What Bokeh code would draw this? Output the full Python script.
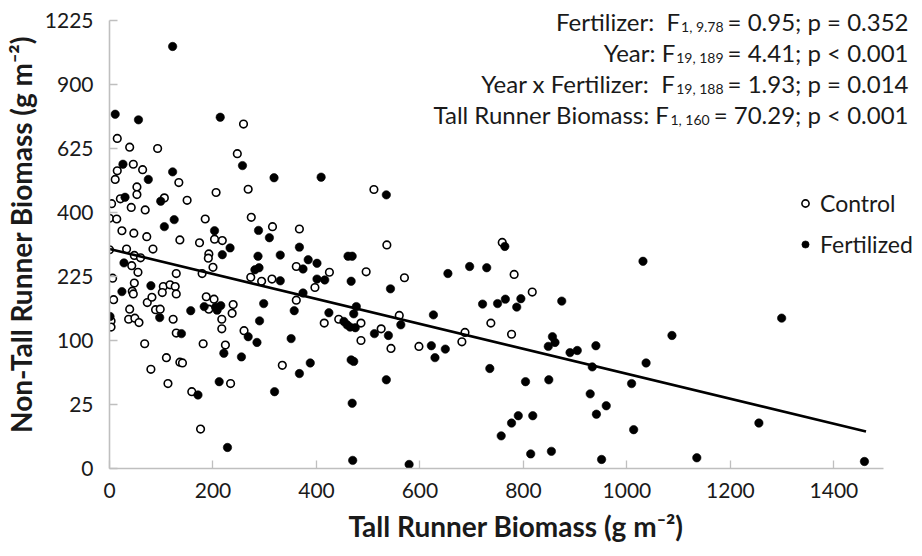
import glob
import subprocess
import numpy as np
from bokeh.plotting import figure
from bokeh.models import FixedTicker, Label, Legend, LegendItem, Range1d
from bokeh.embed import file_html
from bokeh.resources import INLINE

# ---- data ----
control_x = [259, 15, 39, 93, 247, 46, 15, 64, 11, 134,
             53, 268, 53, 206, 106, 150, 4, 21, 42, 69,
             0, 14, 185, 274, 24, 47, 72, 315, 367, 136,
             174, 203, 218, 0, 33, 84, 48, 60, 43, 55,
             192, 191, 200, 129, 179, 361, 6, 48, 104, 117,
             127, 102, 129, 44, 46, 273, 294, 314, 8, 73,
             82, 187, 202, 192, 239, 237, 361, 39, 89, 98,
             37, 49, 57, 3, 3, 123, 217, 217, 129, 260,
             68, 181, 224, 110, 136, 141, 334, 80, 113, 234,
             159, 176, 511, 536, 425, 496, 570, 397, 415, 443,
             486, 486, 525, 544, 560, 598, 687, 681, 737, 759,
             782, 817, 777]
control_y = [724, 665, 630, 625, 605, 565, 541, 545, 510, 499,
             484, 476, 458, 465, 447, 439, 428, 444, 416, 408,
             382, 380, 380, 385, 345, 338, 328, 357, 350, 319,
             311, 321, 317, 292, 294, 294, 277, 271, 251, 235,
             281, 270, 247, 232, 232, 249, 221, 210, 202, 206,
             202, 189, 186, 192, 186, 223, 214, 219, 174, 168,
             179, 180, 175, 155, 164, 147, 173, 155, 154, 155,
             136, 138, 130, 133, 122, 136, 136, 119, 112, 116,
             95, 95, 93, 75, 69, 68, 65, 60, 44, 44,
             36, 9.5, 475, 305, 235, 236, 222, 200, 129, 136,
             129, 100, 119, 88, 143, 91, 113, 98, 129, 312,
             230, 190, 110]

fert_x = [122, 11, 56, 214, 26, 122, 257, 318, 75, 30,
          99, 125, 106, 203, 288, 309, 233, 367, 28, 218,
          287, 330, 281, 289, 80, 24, 330, 183, 205, 215,
          208, 157, 298, 357, 97, 1, 290, 139, 268, 285,
          351, 221, 255, 367, 212, 319, 171, 228, 409, 535,
          384, 401, 374, 401, 416, 461, 469, 467, 654, 696,
          729, 543, 374, 477, 472, 424, 453, 459, 465, 475,
          512, 539, 563, 626, 622, 629, 649, 721, 735, 388,
          467, 472, 535, 469, 470, 579, 764, 750, 765, 795,
          787, 874, 1031, 856, 861, 848, 890, 904, 940, 1087,
          933, 1037, 804, 849, 1009, 929, 960, 941, 790, 818,
          777, 757, 1013, 814, 854, 951, 1135, 1299, 1255, 1459]
fert_y = [1087, 766, 742, 753, 565, 537, 560, 516, 510, 449,
          436, 378, 357, 345, 346, 325, 297, 299, 258, 279,
          275, 278, 241, 246, 204, 191, 215, 160, 159, 162,
          153, 152, 166, 152, 139, 141, 133, 111, 106, 97,
          103, 81, 76, 55, 46, 36, 33, 2.7, 518, 457,
          266, 257, 243, 219, 217, 275, 275, 214, 232, 249,
          246, 197, 188, 160, 146, 148, 132, 126, 122, 121,
          111, 108, 126, 144, 92, 75, 87, 165, 61, 68,
          72, 70, 48, 26, 0.4, 0.1, 301, 166, 175, 176,
          159, 171, 262, 106, 97, 91, 82, 85, 92, 108,
          63, 68, 46, 48, 44, 34, 24, 18, 17, 17,
          12.6, 6.5, 9.2, 1.3, 1.8, 0.5, 0.7, 138, 12.6, 0.3]

# regression on the square-root scale: sqrt(y) = a + b*x
fit_intercept = 17.15
fit_slope = -0.00975
fit_x_max = 1462

x_ticks = [0, 200, 400, 600, 800, 1000, 1200, 1400]
x_axis_end = 1496
y_tick_values = [0, 25, 100, 225, 400, 625, 900, 1225]
y_axis_end = 35  # square root of 1225

stat_main = ["Fertilizer:\u00a0 F", "Year: F", "Year x Fertilizer:\u00a0 F", "Tall Runner Biomass: F"]
stat_sub = ["1, 9.78", "19, 189", "19, 188", "1, 160"]
stat_rest = ["= 0.95; p = 0.352", "= 4.41; p < 0.001", "= 1.93; p = 0.014", "= 70.29; p < 0.001"]

# ---- layout constants (canvas pixels) ----
W, H = 922, 556
LEFT, BOTTOM = 107, 88
AXIS_RIGHT_PX = 883
AXIS_TOP_PX = 20
FRAME_BOTTOM = H - BOTTOM
FONT = "Lato"
TXT = "#1a1a1a"
STAT_SIZE = 24
SUB_SIZE = 14


def find_font_file():
    roots = ["/usr/share/fonts", "/usr/local/share/fonts", "/root/.fonts",
             "/root/.local/share/fonts"]
    for root in roots:
        for pat in ("Lato-Regular.ttf", "Lato-Regular.otf", "Lato-Reg*.ttf"):
            hits = glob.glob(f"{root}/**/{pat}", recursive=True)
            if hits:
                return hits[0]
    try:
        out = subprocess.run(["fc-match", "-f", "%{file}", "Lato:style=Regular"],
                             capture_output=True, text=True, timeout=5).stdout.strip()
        if out:
            return out
    except Exception:
        pass
    return None


_font_file = find_font_file()
_font_cache = {}


def text_width(text, size):
    try:
        from PIL import ImageFont
        if _font_file:
            if size not in _font_cache:
                _font_cache[size] = ImageFont.truetype(_font_file, size)
            return _font_cache[size].getlength(text)
    except Exception:
        pass
    return len(text) * 0.55 * size


# the frame fills the canvas to the right and top edges so that the text at the
# top right is not clipped; the axis lines stop at the reference's axis ends
x_px_per_unit = (AXIS_RIGHT_PX - LEFT) / x_axis_end
x_range_end = (W - LEFT) / x_px_per_unit
y_px_per_unit = (FRAME_BOTTOM - AXIS_TOP_PX) / y_axis_end
y_range_end = FRAME_BOTTOM / y_px_per_unit

p = figure(width=W, height=H, output_backend="svg", toolbar_location=None,
           x_range=Range1d(0, x_range_end), y_range=Range1d(0, y_range_end),
           min_border_left=LEFT, min_border_right=0,
           min_border_top=0, min_border_bottom=BOTTOM)
p.outline_line_color = None
p.xgrid.grid_line_color = None
p.ygrid.grid_line_color = None
p.background_fill_color = "white"
p.border_fill_color = "white"

p.xaxis.ticker = FixedTicker(ticks=x_ticks)
p.xaxis.bounds = (0, x_axis_end)
y_tick_pos = [int(round(np.sqrt(v))) for v in y_tick_values]
p.yaxis.ticker = FixedTicker(ticks=y_tick_pos)
p.yaxis.bounds = (0, y_axis_end)
p.yaxis.major_label_overrides = {k: str(v) for k, v in zip(y_tick_pos, y_tick_values)}

for ax in (p.xaxis[0], p.yaxis[0]):
    ax.axis_line_color = "#bfbfbf"
    ax.axis_line_width = 1.6
    ax.major_tick_line_color = "#bfbfbf"
    ax.major_tick_line_width = 1.3
    ax.major_tick_in = 8
    ax.major_tick_out = 0
    ax.minor_tick_line_color = None
    ax.major_label_text_font = FONT
    ax.major_label_text_font_size = "21px"
    ax.major_label_text_color = TXT
    ax.axis_label_text_font = FONT
    ax.axis_label_text_font_size = "28px"
    ax.axis_label_text_font_style = "bold"
    ax.axis_label_text_color = TXT

p.xaxis.axis_label = "Tall Runner Biomass (g m\u207b\u00b2)"
p.yaxis.axis_label = "Non-Tall Runner Biomass (g m\u207b\u00b2)"
p.xaxis.major_label_standoff = 14
p.yaxis.major_label_standoff = 16
p.xaxis.axis_label_standoff = 8
p.yaxis.axis_label_standoff = 4

r_c = p.scatter(control_x, np.sqrt(control_y), size=7.6, marker="circle",
                fill_color="white", line_color="black", line_width=1.6)
r_f = p.scatter(fert_x, np.sqrt(fert_y), size=8.4, marker="circle",
                fill_color="black", line_color="black", line_width=0.6)

line_x = np.array([0, fit_x_max])
p.line(line_x, fit_intercept + fit_slope * line_x, line_color="black", line_width=2.6)

legend = Legend(items=[LegendItem(label="Control", renderers=[r_c]),
                       LegendItem(label="Fertilized", renderers=[r_f])],
                location=(687, 209), orientation="vertical",
                padding=0, margin=0, spacing=11,
                label_height=30, glyph_height=30, glyph_width=18, label_standoff=6,
                label_text_font=FONT, label_text_font_size="23px", label_text_color=TXT,
                label_text_baseline="middle",
                border_line_color=None, background_fill_alpha=0)
p.add_layout(legend, "center")

# statistics text block: right-aligned lines built from three pieces
rest_right_x = 906
baselines = [21, 52, 83, 114]
for main, sub, rest, by in zip(stat_main, stat_sub, stat_rest, baselines):
    rest_left = rest_right_x - text_width(rest, STAT_SIZE)
    sub_left = rest_left - 4 - text_width(sub, SUB_SIZE)
    main_right = sub_left - 1
    p.add_layout(Label(x=main_right - LEFT, y=FRAME_BOTTOM - by, x_units="screen", y_units="screen",
                       text=main, text_align="right", text_baseline="alphabetic",
                       text_font=FONT, text_font_size=f"{STAT_SIZE}px", text_color=TXT))
    p.add_layout(Label(x=sub_left - LEFT, y=FRAME_BOTTOM - by - 5, x_units="screen", y_units="screen",
                       text=sub, text_align="left", text_baseline="alphabetic",
                       text_font=FONT, text_font_size=f"{SUB_SIZE}px", text_color=TXT))
    p.add_layout(Label(x=rest_right_x - LEFT, y=FRAME_BOTTOM - by, x_units="screen", y_units="screen",
                       text=rest, text_align="right", text_baseline="alphabetic",
                       text_font=FONT, text_font_size=f"{STAT_SIZE}px", text_color=TXT))

open("out.html", "w").write(file_html(p, INLINE))
